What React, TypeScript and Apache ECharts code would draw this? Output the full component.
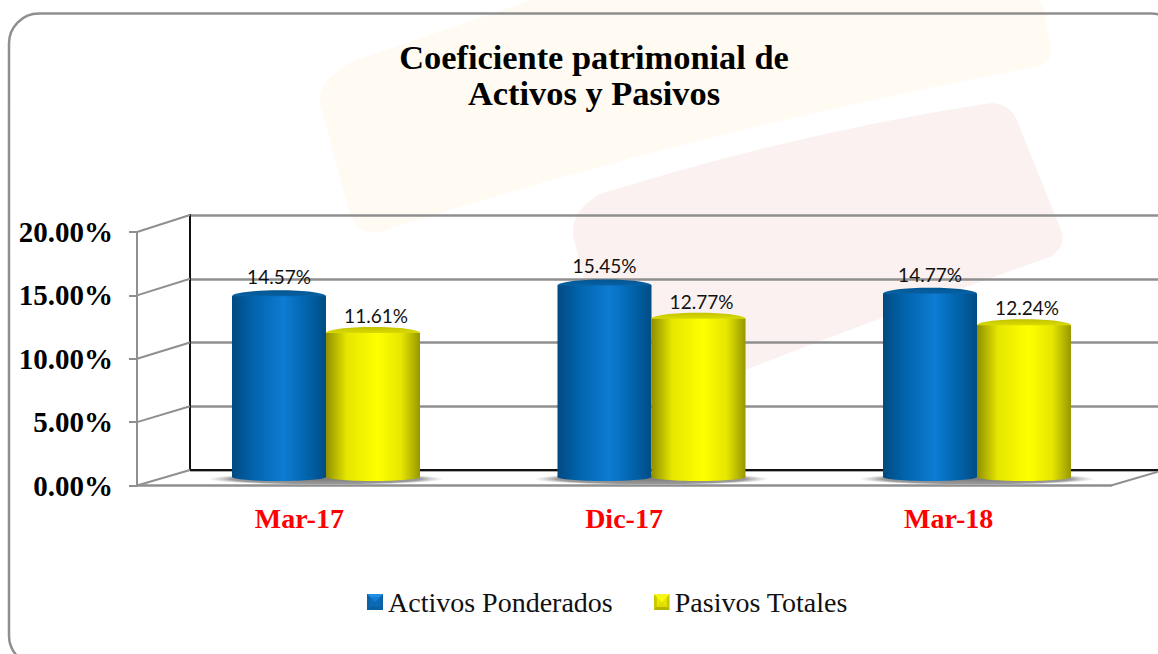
import React, { useEffect, useRef } from "react";
import * as echarts from "echarts";

const categories = ["Mar-17", "Dic-17", "Mar-18"];
const activos = [14.57, 15.45, 14.77];
const pasivos = [11.61, 12.77, 12.24];
const seriesNames = ["Activos Ponderados", "Pasivos Totales"];
const titleLines = ["Coeficiente patrimonial de", "Activos y Pasivos"];

const W = 1158;
const H = 654;
const front = { left: 137, right: 1111, top: 232, bottom: 485.5 };
const back = { left: 190, right: 1164, top: 215, bottom: 470 };
const bars = { left: 163.25, right: 1139.75, top: 229, bottom: 477 };
const yMax = 20;
const yStep = 5;
const GRAY = "#8f8f8f";
const BAR_W = 94;
const SERIF = "'Liberation Serif', serif";

const hGrad = (a: string, b: string, c: string, d: string) => ({
  type: "linear", x: 0, y: 0, x2: 1, y2: 0,
  colorStops: [
    { offset: 0, color: a },
    { offset: 0.22, color: b },
    { offset: 0.55, color: c },
    { offset: 0.8, color: b },
    { offset: 1, color: d },
  ],
});
const vGrad = (a: string, b: string) => ({
  type: "linear", x: 0, y: 0, x2: 0, y2: 1,
  colorStops: [{ offset: 0, color: a }, { offset: 1, color: b }],
});
const blueBody = hGrad("#014a80", "#0163ab", "#0d7cd3", "#014c84");
const yellowBody = hGrad("#8f8f00", "#e6e600", "#ffff00", "#979700");
const shadowFill = {
  type: "radial", x: 0.5, y: 0.5, r: 0.5,
  colorStops: [
    { offset: 0, color: "#7d7d7d" },
    { offset: 0.8, color: "#9a9a9a" },
    { offset: 1, color: "rgba(190,190,190,0)" },
  ],
};

const pct = (v: number) => v.toFixed(2) + "%";

const bevel = (top: string, side: string, bottom: string, mid: string) =>
  "image://data:image/svg+xml;utf8," +
  encodeURIComponent(
    `<svg xmlns="http://www.w3.org/2000/svg" width="16" height="16"><rect width="16" height="16" fill="${side}"/><polygon points="0,0 16,0 8,8" fill="${top}"/><polygon points="0,16 16,16 8,8" fill="${bottom}"/><polygon points="3,3 13,3 13,13 3,13" fill="${mid}" opacity="0.55"/></svg>`
  );

const CREAM =
  "M351 62 L560 -10 L1032 -10 Q1040 -6 1044 12 L1051 48 Q1052 62 1040 66 Q700 130 392 228 Q370 238 358 226 Q350 218 346 200 L320 104 Q316 82 351 62 Z";
const PINK =
  "M600 194 Q800 132 985 104 Q1006 100 1016 118 L1062 232 Q1066 248 1050 257 Q900 310 740 372 L600 340 L574 240 Q568 212 600 194 Z";
let registered = false;
function registerShapes() {
  if (registered) return;
  registered = true;
  echarts.graphic.registerShape("bgCream", echarts.graphic.extendPath(CREAM, {}));
  echarts.graphic.registerShape("bgPink", echarts.graphic.extendPath(PINK, {}));
}

const gridOf = (g: { left: number; right: number; top: number; bottom: number }) => ({
  left: g.left, top: g.top, width: g.right - g.left, height: g.bottom - g.top,
});

// An ellipse (cylinder cap, cylinder foot or floor shadow) placed through the bar grid's own axes.
function ellipseSeries(name: string, values: number[], cfg: {
  dx: number; rx: number; ry: number; dy: number; atZero: boolean; fill: any; z: number;
}) {
  return {
    type: "custom", name, xAxisIndex: 2, yAxisIndex: 2, z: cfg.z, silent: true, clip: false,
    data: values.map((v, i) => [i, v]),
    encode: { x: 0, y: 1 },
    renderItem: (_: any, api: any) => {
      const c = api.coord([api.value(0), cfg.atZero ? 0 : api.value(1)]);
      return {
        type: "ellipse",
        shape: { cx: c[0] + cfg.dx, cy: c[1] + cfg.dy, rx: cfg.rx, ry: cfg.ry },
        style: { fill: cfg.fill },
      };
    },
  };
}

export default function App() {
  const ref = useRef<HTMLDivElement>(null);
  useEffect(() => {
    document.body.style.margin = "0";
    document.body.style.overflow = "hidden";
    registerShapes();
    const chart = echarts.init(ref.current!, null, { renderer: "svg" });

    const depth: any[] = [];
    for (let v = 0; v <= yMax; v += yStep) {
      const fy = front.bottom - (v / yMax) * (front.bottom - front.top);
      const by = back.bottom - (v / yMax) * (back.bottom - back.top);
      depth.push({
        type: "line", z: 1,
        shape: { x1: front.left, y1: fy, x2: back.left, y2: by },
        style: { stroke: GRAY, lineWidth: 2 },
      });
    }
    depth.push({
      type: "line", z: 1,
      shape: { x1: front.right, y1: front.bottom, x2: back.right, y2: back.bottom },
      style: { stroke: GRAY, lineWidth: 2 },
    });

    const hiddenX = (gridIndex: number) => ({
      type: "category", gridIndex, data: categories,
      axisLabel: { show: false }, axisTick: { show: false }, axisLine: { show: false },
    });
    const hiddenY = (gridIndex: number) => ({
      type: "value", gridIndex, min: 0, max: yMax, interval: yStep,
      axisLabel: { show: false }, axisTick: { show: false }, axisLine: { show: false }, splitLine: { show: false },
    });
    const onBars = { xAxisIndex: 2, yAxisIndex: 2 };
    const barLabel = {
      show: true, position: "top", distance: 8, color: "#111",
      fontFamily: "Lato, sans-serif", fontSize: 19,
      formatter: (p: any) => pct(p.value),
    };
    const half = BAR_W / 2;

    chart.setOption({
      animation: false,
      backgroundColor: "#ffffff",
      title: {
        text: titleLines.join("\n"),
        left: 589, top: 34, textAlign: "center",
        textStyle: { fontFamily: SERIF, fontWeight: "bold", fontSize: 34.4, lineHeight: 36, color: "#000" },
      },
      legend: {
        data: [
          { name: seriesNames[0], icon: bevel("#1f8fe6", "#0a62a8", "#0b5f9f", "#0d6fc0") },
          { name: seriesNames[1], icon: bevel("#f6f61a", "#c9c900", "#b5b500", "#ffff00") },
        ],
        left: 362, top: 583,
        itemWidth: 16, itemHeight: 16, itemGap: 41,
        textStyle: { fontFamily: SERIF, fontSize: 28, color: "#111" },
      },
      grid: [gridOf(front), gridOf(back), gridOf(bars)],
      xAxis: [
        {
          type: "category", gridIndex: 0, data: categories,
          axisLine: { lineStyle: { color: GRAY, width: 2.5 } },
          axisTick: { length: 10, lineStyle: { color: GRAY, width: 2 } },
          axisLabel: { color: "#ff0000", fontFamily: SERIF, fontWeight: "bold", fontSize: 28, margin: 19 },
        },
        {
          ...hiddenX(1),
          axisLine: { show: true, lineStyle: { color: "#111", width: 2 } },
        },
        hiddenX(2),
      ],
      yAxis: [
        {
          type: "value", gridIndex: 0, min: 0, max: yMax, interval: yStep,
          axisLine: { show: true, lineStyle: { color: GRAY, width: 2 } },
          axisTick: { show: true, length: 8, lineStyle: { color: GRAY, width: 2 } },
          axisLabel: {
            color: "#000", fontFamily: SERIF, fontWeight: "bold", fontSize: 29, margin: 24,
            formatter: (v: number) => pct(v),
          },
          splitLine: { show: false },
        },
        {
          type: "value", gridIndex: 1, min: 0, max: yMax, interval: yStep,
          axisLabel: { show: false }, axisTick: { show: false },
          axisLine: { show: true, lineStyle: { color: "#111", width: 2 } },
          splitLine: { show: true, lineStyle: { color: GRAY, width: 2.5 } },
        },
        hiddenY(2),
      ],
      series: [
        ellipseSeries("sombra", activos, { dx: 0, rx: 118, ry: 6, dy: 2, atZero: true, fill: shadowFill, z: 2 }),
        ellipseSeries("baseA", activos, { dx: -half, rx: half, ry: 4, dy: 0, atZero: true, fill: blueBody, z: 3 }),
        ellipseSeries("baseP", pasivos, { dx: half, rx: half, ry: 4, dy: 0, atZero: true, fill: yellowBody, z: 5 }),
        {
          type: "bar", name: seriesNames[0], data: activos, ...onBars,
          barGap: "0%", barWidth: BAR_W, z: 4,
          itemStyle: { color: blueBody }, label: { ...barLabel, distance: 10 },
        },
        {
          type: "bar", name: seriesNames[1], data: pasivos, ...onBars,
          barGap: "0%", barWidth: BAR_W, z: 6,
          itemStyle: { color: yellowBody }, label: { ...barLabel, offset: [3, 0] },
        },
        ellipseSeries("tapaA", activos, { dx: -half, rx: half, ry: 6, dy: 0, atZero: false, fill: vGrad("#04558f", "#0a6fbc"), z: 4 }),
        ellipseSeries("tapaP", pasivos, { dx: half, rx: half, ry: 6, dy: 0, atZero: false, fill: vGrad("#c2c200", "#f2f200"), z: 6 }),
      ],
      graphic: [
        { type: "bgCream", z: -2, silent: true, x: 0, y: 0, style: { fill: "#fffbf3" } },
        { type: "bgPink", z: -1, silent: true, x: 0, y: 0, style: { fill: "#fbf1f0" } },
        {
          type: "rect", z: 0, silent: true,
          shape: { x: 9, y: 13.5, width: 1172, height: 652, r: 30 },
          style: { fill: "transparent", stroke: GRAY, lineWidth: 2.5 },
        },
        ...depth,
      ],
    });
    return () => chart.dispose();
  }, []);
  return <div ref={ref} style={{ width: W, height: H }} />;
}
